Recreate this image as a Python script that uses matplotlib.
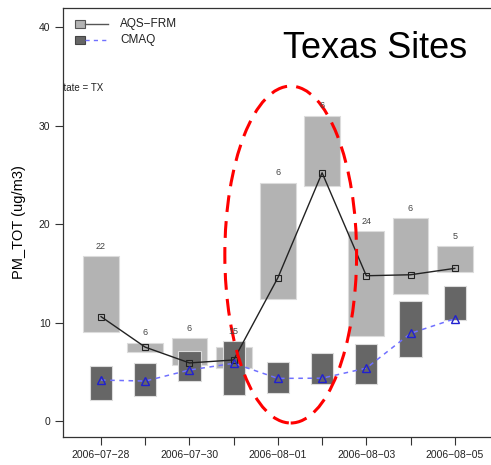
import numpy as np
import matplotlib
matplotlib.use("Agg")
import matplotlib.pyplot as plt
from matplotlib.patches import Rectangle, Ellipse
from matplotlib.lines import Line2D

plt.rcParams['font.family'] = ['Liberation Sans', 'DejaVu Sans']

# Daily PM_TOT summaries for Texas sites
dates = ['2006-07-28', '2006-07-29', '2006-07-30', '2006-07-31', '2006-08-01',
         '2006-08-02', '2006-08-03', '2006-08-04', '2006-08-05']
tick_labels = ['2006\u221207\u221228', '2006\u221207\u221230', '2006\u221208\u221201',
               '2006\u221208\u221203', '2006\u221208\u221205']
n_sites = [22, 6, 6, 15, 6, 6, 24, 6, 5]

aqs_mean = [10.6, 7.5, 5.9, 6.2, 14.55, 25.2, 14.75, 14.85, 15.5]
aqs_lo = [9.07, 6.97, 5.69, 5.35, 12.39, 23.9, 8.63, 12.93, 15.16]
aqs_hi = [16.75, 7.95, 8.39, 7.48, 24.2, 31.0, 19.3, 20.6, 17.77]

cmaq_mean = [4.16, 4.06, 5.18, 5.86, 4.33, 4.35, 5.37, 8.9, 10.38]
cmaq_lo = [2.13, 2.54, 4.06, 2.64, 2.87, 3.72, 3.76, 6.53, 10.3]
cmaq_hi = [5.58, 5.86, 7.1, 8.12, 6.02, 6.93, 7.79, 12.2, 13.7]

W, H = 491, 465
fig = plt.figure(figsize=(W / 100, H / 100), dpi=100)

def fx(px):
    return px / W

def fy(py):
    return 1 - py / H

ax = fig.add_axes([fx(63), fy(437), fx(491) - fx(63), fy(8) - fy(437)])
x = np.arange(len(dates))

light = '#b3b3b3'
dark = '#666666'
edge = '#dcdcdc'

for xi, lo, hi in zip(x, aqs_lo, aqs_hi):
    ax.add_patch(Rectangle((xi - 0.405, lo), 0.81, hi - lo, facecolor=light,
                           edgecolor=edge, linewidth=0.8, zorder=2))
for xi, lo, hi in zip(x, cmaq_lo, cmaq_hi):
    ax.add_patch(Rectangle((xi - 0.25, lo), 0.5, hi - lo, facecolor=dark,
                           edgecolor=edge, linewidth=0.8, zorder=3))

ax.plot(x, aqs_mean, color='#222222', linewidth=1.0, marker='s', markersize=5,
        markerfacecolor='none', markeredgecolor='#222222', markeredgewidth=0.8, zorder=5)
ax.plot(x, cmaq_mean, color='#7070ff', linewidth=1.1, linestyle=(0, (3, 3)),
        zorder=4)
ax.plot(x, cmaq_mean, linestyle='none', marker='^', markersize=6,
        markerfacecolor='none', markeredgecolor='#2020d0', markeredgewidth=1.0, zorder=5)

for xi, n, h1, h2 in zip(x, n_sites, aqs_hi, cmaq_hi):
    ax.text(xi, max(h1, h2) + 1.0, str(n), ha='center', va='center',
            fontsize=6.5, color='#444444', zorder=8)

ax.add_patch(Ellipse((4.29, 16.9), 2.98, 34.2, fill=False, edgecolor='#ff0000',
                     linewidth=2.2, linestyle=(0, (5.5, 3)), zorder=7, clip_on=False))

ax.set_xlim(-0.86, 8.82)
ax.set_ylim(-1.62, 41.93)
ax.set_xticks(x, minor=False)
ax.set_xticklabels(['' if i % 2 else tick_labels[i // 2] for i in x], fontsize=7.5)
ax.set_yticks([0, 10, 20, 30, 40])
ax.set_yticklabels(['0', '10', '20', '30', '40'], fontsize=7.5)
ax.tick_params(direction='out', length=6, width=0.8, color='#333333', labelcolor='#222222', pad=3)
for s in ['left', 'bottom', 'top']:
    ax.spines[s].set_color('#333333')
    ax.spines[s].set_linewidth(0.9)
ax.spines['right'].set_visible(False)
ax.set_ylabel('PM_TOT (ug/m3)', fontsize=10.5, labelpad=9)

ax.text(-0.015, 0.8135, 'State = TX', transform=ax.transAxes, fontsize=7,
        ha='left', va='center', clip_on=True, color='#222222')

# legend
fig.add_artist(Rectangle((fx(75), fy(28)), fx(85) - fx(75), fy(20) - fy(28),
                         transform=fig.transFigure, facecolor=light, edgecolor='#555555', linewidth=0.8))
fig.add_artist(Line2D([fx(85), fx(108)], [fy(24), fy(24)], transform=fig.transFigure,
                      color='#555555', linewidth=1.0))
fig.add_artist(Rectangle((fx(75), fy(44)), fx(85) - fx(75), fy(36) - fy(44),
                         transform=fig.transFigure, facecolor=dark, edgecolor='#444444', linewidth=0.8))
fig.add_artist(Line2D([fx(85), fx(108)], [fy(40), fy(40)], transform=fig.transFigure,
                      color='#7070ff', linewidth=1.0, linestyle=(0, (3, 3))))
fig.text(fx(120), fy(24), 'AQS\u2212FRM', fontsize=8.5, va='center', ha='left', color='#222222')
fig.text(fx(120), fy(40), 'CMAQ', fontsize=8.5, va='center', ha='left', color='#222222')

fig.text(fx(283), fy(48), 'Texas Sites', fontsize=26, va='center', ha='left', color='black')

fig.savefig('out.png', dpi=100)
